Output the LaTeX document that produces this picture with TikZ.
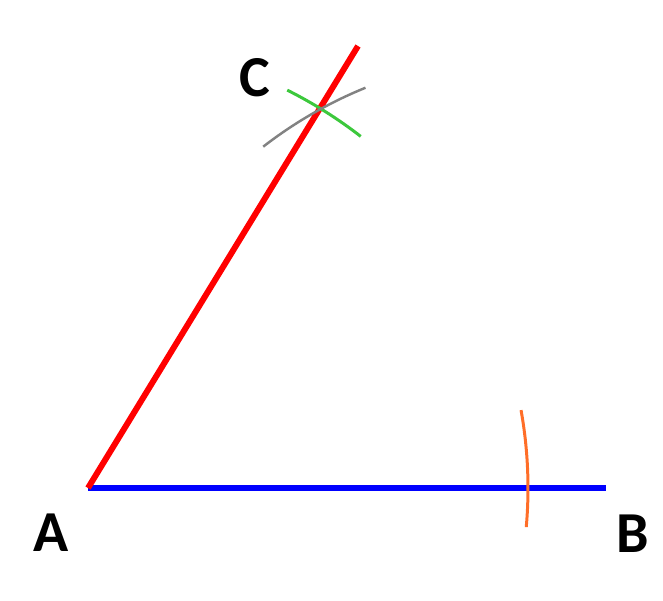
\documentclass[tikz,border=0pt]{standalone}
\usepackage{fontspec}
\setsansfont{Carlito}
\usepackage{tikz}
\usetikzlibrary{calc}
\usetikzlibrary{positioning}
\definecolor{arcorange}{RGB}{255,110,40}
\definecolor{arcgreen}{RGB}{60,200,60}
\definecolor{arcgray}{RGB}{130,130,130}

\begin{document}
\begin{tikzpicture}[x=0.02cm,y=0.02cm,
    ray/.style={line width=3.4pt},
    mark arc/.style={line width=1.7pt},
    vertex/.style={font=\sffamily\bfseries\fontsize{33}{36}\selectfont, inner sep=0pt}]
  \useasboundingbox (0,0) rectangle (663,600);
  \coordinate (A) at (88,112);
  \coordinate (B) at (606,112);
  \coordinate (D) at (528,112);
  \coordinate (T) at (358,554);
  \draw[ray, blue] (A) -- (B);
  \draw[ray, red] (A) -- (T);
  \draw[mark arc, arcorange] ([shift={(-5.1:440)}]A) arc[start angle=-5.1, end angle=10.2, radius=440];
  \draw[mark arc, arcgreen] ([shift={(52.2:445)}]A) arc[start angle=52.2, end angle=63.4, radius=445];
  \draw[mark arc, arcgray, line width=1.4pt] ([shift={(112.1:432)}]D) arc[start angle=112.1, end angle=127.8, radius=432];
  \node[vertex] (lblA) at (51,67) {A};
  \node[vertex] (lblB) at (633,66) {B};
  \node[vertex] (lblC) at (255,522) {C};
\end{tikzpicture}
\end{document}
